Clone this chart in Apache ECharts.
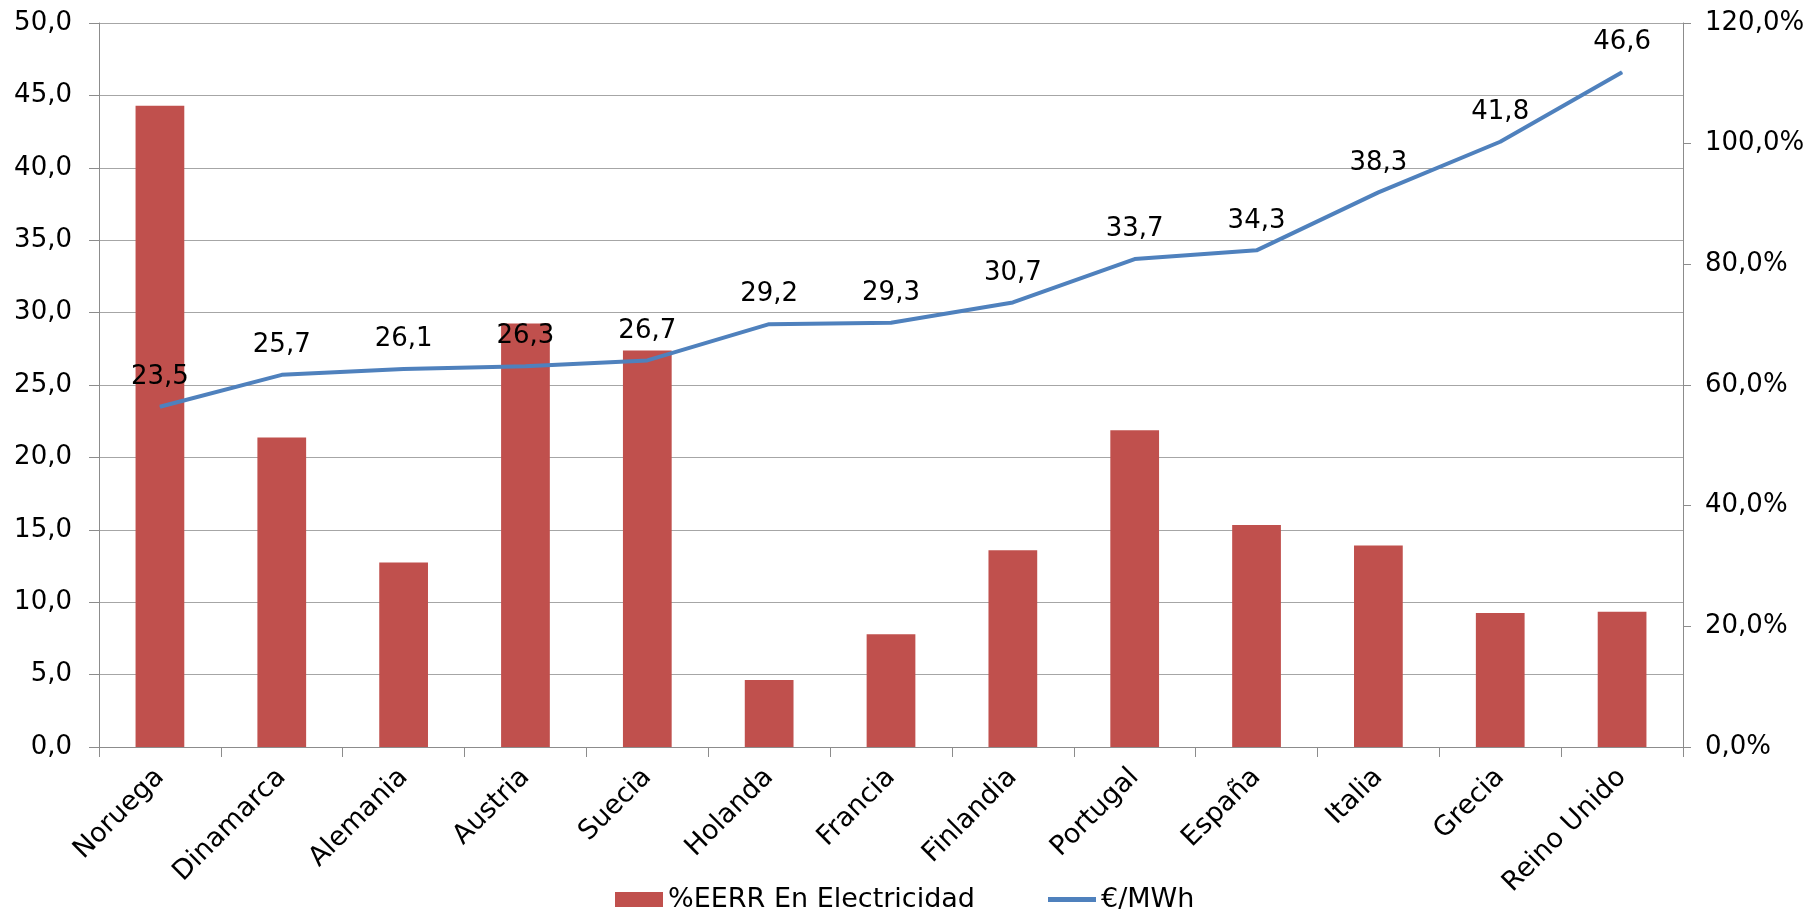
<!DOCTYPE html>
<html>
<head>
<meta charset="utf-8">
<script src="https://cdn.jsdelivr.net/npm/echarts@6/dist/echarts.min.js"></script>
<style>
html,body{margin:0;padding:0;background:#fff;}
#chart{width:1817px;height:916px;}
</style>
</head>
<body>
<div id="chart"></div>
<script>
var categories = ['Noruega','Dinamarca','Alemania','Austria','Suecia','Holanda','Francia','Finlandia','Portugal','España','Italia','Grecia','Reino Unido'];
var eerrPct = [106.3, 51.3, 30.6, 70.2, 65.7, 11.1, 18.7, 32.6, 52.5, 36.8, 33.4, 22.2, 22.4];
var priceMWh = [23.5, 25.7, 26.1, 26.3, 26.7, 29.2, 29.3, 30.7, 33.7, 34.3, 38.3, 41.8, 46.6];
var seriesNames = ['%EERR En Electricidad', '€/MWh'];

var FONT = 'DejaVu Sans, Verdana, sans-serif';
function comma1(v){ return v.toFixed(1).replace('.', ','); }

var chart = echarts.init(document.getElementById('chart'), null, {renderer:'canvas'});
chart.setOption({
  backgroundColor: '#ffffff',
  animation: false,
  textStyle: {fontFamily: FONT},
  grid: {left: 99, right: 134, top: 23, bottom: 169, containLabel: false, outerBoundsMode: 'none'},
  legend: {
    left: 610, top: 881,
    itemWidth: 48, itemHeight: 15, itemGap: 73,
    textStyle: {fontSize: 27, color: '#000', fontFamily: FONT},
    data: [
      {name: seriesNames[0], icon: 'rect', itemStyle: {color: '#C0504D'}},
      {name: seriesNames[1], icon: 'path://M0 0H40V4H0Z', itemStyle: {color: '#4F81BD'}}
    ]
  },
  xAxis: {
    type: 'category',
    data: categories,
    boundaryGap: true,
    axisLine: {lineStyle: {color: '#8C8C8C', width: 1}},
    axisTick: {show: true, length: 10, lineStyle: {color: '#8C8C8C'}},
    axisLabel: {rotate: 45, fontSize: 27, color: '#000', margin: 26, interval: 0, fontFamily: FONT}
  },
  yAxis: [
    {
      type: 'value', min: 0, max: 50, interval: 5, position: 'left',
      axisLine: {show: true, lineStyle: {color: '#8C8C8C'}},
      axisTick: {show: true, length: 10, lineStyle: {color: '#8C8C8C'}},
      axisLabel: {fontSize: 26, color: '#000', margin: 27, formatter: function(v){return comma1(v);}, fontFamily: FONT},
      splitLine: {show: true, lineStyle: {color: '#A6A6A6', width: 1}}
    },
    {
      type: 'value', min: 0, max: 120, interval: 20, position: 'right',
      axisLine: {show: true, lineStyle: {color: '#8C8C8C'}},
      axisTick: {show: true, length: 8, lineStyle: {color: '#8C8C8C'}},
      axisLabel: {fontSize: 26, color: '#000', margin: 22, formatter: function(v){return comma1(v) + '%';}, fontFamily: FONT},
      splitLine: {show: false}
    }
  ],
  series: [
    {
      name: seriesNames[0], type: 'bar', yAxisIndex: 1,
      data: eerrPct, barWidth: '40%',
      itemStyle: {color: '#C0504D'}
    },
    {
      name: seriesNames[1], type: 'line', yAxisIndex: 0,
      data: priceMWh,
      symbol: 'circle', symbolSize: 1, showSymbol: true,
      itemStyle: {color: '#4F81BD'},
      lineStyle: {color: '#4F81BD', width: 4},
      label: {show: true, position: 'top', distance: 16, fontSize: 26, color: '#000', fontFamily: FONT,
              formatter: function(p){ return comma1(p.value); }},
      z: 3
    }
  ]
});
</script>
</body>
</html>
